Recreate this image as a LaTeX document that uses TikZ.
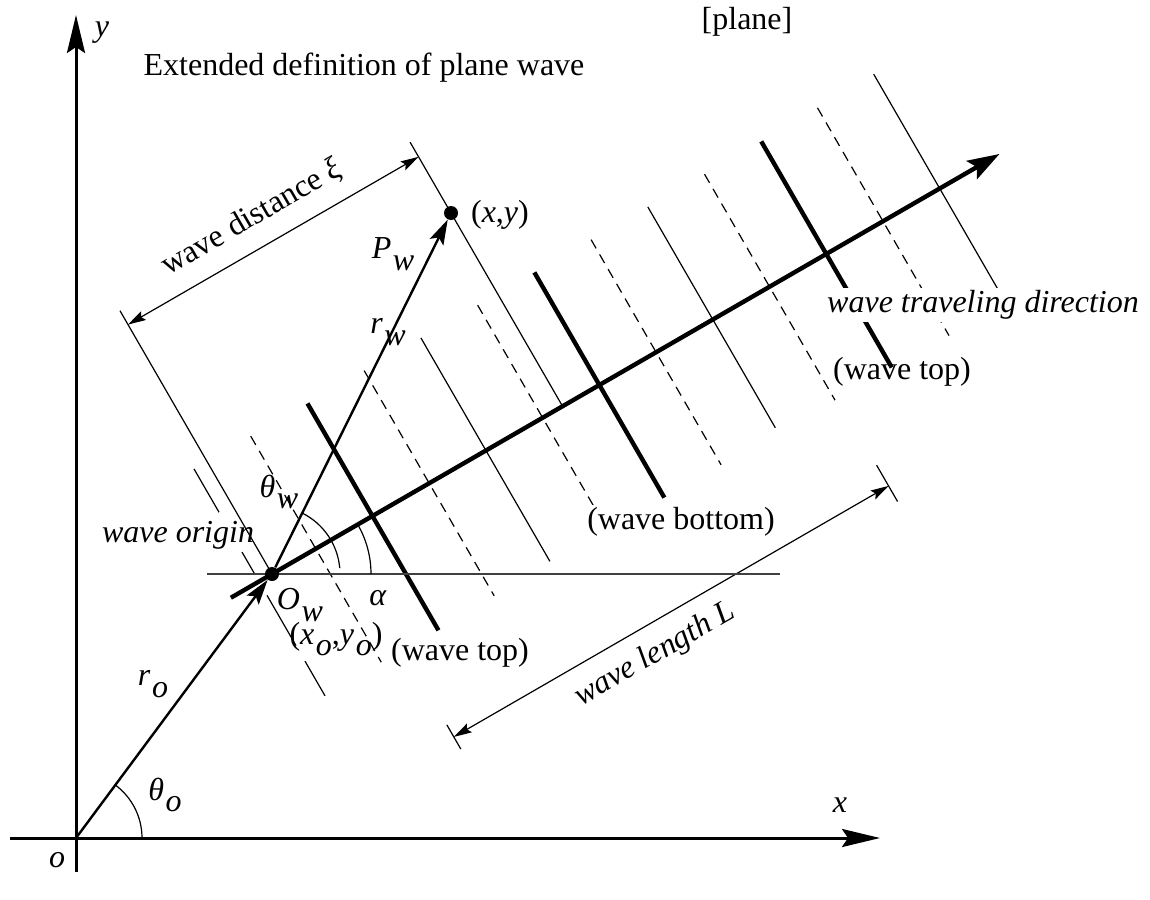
\documentclass[tikz,border=0pt]{standalone}
\usepackage{fontspec}
\setmainfont{Liberation Serif}
\usetikzlibrary{arrows.meta}
\tikzset{
	thinline/.style={line width=0.6pt},
	dashline/.style={line width=0.6pt, dash pattern=on 5pt off 3.5pt},
	crest/.style={line width=2.2pt},
	axis/.style={line width=1.5pt, -{Stealth[length=19pt, width=9pt, inset=3pt]}},
	vec/.style={line width=1.2pt, -{Stealth[length=12.5pt, width=7.5pt, inset=2.5pt]}},
	dim/.style={line width=0.6pt, {Stealth[length=9pt, width=5pt, inset=1.5pt]}-{Stealth[length=9pt, width=5pt, inset=1.5pt]}},
	dot/.style={circle, fill, inner sep=0pt, minimum size=7pt},
	lbl/.style={inner sep=1pt, font=\fontsize{16}{19}\selectfont},
}
\newcommand{\wsub}[2]{\textit{#1}\kern0.05em\raisebox{-0.8ex}{\textit{#2}}}
\begin{document}
\begin{tikzpicture}[x=0.5pt, y=0.5pt]
	\useasboundingbox (0,0) rectangle (1150,-899);
	% Axes:
	\coordinate (o) at (76,-838);
	\coordinate (xs) at (10,-838);
	\coordinate (xe) at (880,-838);
	\coordinate (ys) at (76,-872);
	\coordinate (ye) at (76,-15);
	\draw[axis] (xs) -- (xe);
	\draw[axis] (ys) -- (ye);
	% Wave fronts, in the frame of the wave:
	\begin{scope}[shift={(272,-574)}, rotate=30]
		\draw[thinline] (0,304) -- (0,0);
		\draw[thinline] (-15,130) -- (-15,80) (-15,34) -- (-15,8) (-15,-16) -- (-15,-74) (-15,-92) -- (-15,-132);
		\draw[dashline] (50.5,130) -- (50.5,-131);
		\draw[crest] (116,130) -- (116,-132);
		\draw[dashline] (181.5,130) -- (181.5,-130);
		\draw[thinline] (247,130) -- (247,-128);
		\draw[dashline] (312.5,130) -- (312.5,-130);
		\draw[thinline] (335.5,305) -- (335.5,0);
		\draw[crest] (378,130) -- (378,-130);
		\draw[dashline] (443.5,130) -- (443.5,-130);
		\draw[thinline] (509,130) -- (509,-125);
		\draw[dashline] (574.5,130) -- (574.5,-131);
		\draw[crest] (640,130) -- (640,-131);
		\draw[dashline] (705.5,131) -- (705.5,-132);
		\draw[thinline] (771,132) -- (771,-130);
		\coordinate (dirS) at (-47.5,0);
		\coordinate (dirE) at (840,0);
		\draw[crest, -{Stealth[length=16pt, width=10.5pt, inset=3pt]}] (dirS) -- (dirE);
		\coordinate (xiA) at (0,288);
		\coordinate (xiB) at (335.5,288);
		\draw[dim] (xiA) -- (xiB);
		\coordinate (LA) at (76,-232);
		\coordinate (LB) at (578,-232);
		\draw[thinline] (76,-218) -- (76,-246) (578,-208) -- (578,-250);
		\draw[dim] (LA) -- (LB);
	\end{scope}
	% Horizontal through the wave origin:
	\coordinate (hA) at (207,-574);
	\coordinate (hB) at (780,-574);
	\draw[thinline, black!75] (hA) -- (hB);
	% Points and vectors:
	\node[dot] (Ow) at (272,-574) {};
	\node[dot] (Pw) at (451,-213) {};
	\draw[vec] (o) -- (Ow);
	\draw[vec] (Ow) -- (Pw);
	% Angles:
	\draw[thinline] (o) ++(0:66) arc[start angle=0, end angle=53.6, radius=66];
	\draw[thinline] (Ow.center) ++(63.6:68) arc[start angle=63.6, end angle=5, radius=68];
	\draw[thinline] (Ow.center) ++(0:99) arc[start angle=0, end angle=30, radius=99];
	% Labels:
	\node[lbl] (title) at (364,-68) {Extended definition of plane wave};
	\node[lbl] (plane) at (747,-22) {[plane]};
	\node[lbl] (ylbl) at (102,-33) {\textit{y}};
	\node[lbl] (xlbl) at (840,-805) {\textit{x}};
	\node[lbl] (olbl) at (57,-860) {\textit{o}};
	\node[lbl] (thetao) at (165,-795) {\wsub{θ}{o}};
	\node[lbl] (ro) at (153,-684) {\wsub{r}{o}};
	\node[lbl] (thetaw) at (279,-492) {\wsub{θ}{w}};
	\node[lbl] (rw) at (388,-332) {\wsub{r}{w}};
	\node[lbl] (Pwlbl) at (393,-254) {\wsub{P}{w}};
	\node[lbl] (xy) at (500,-215) {(\textit{x},\textit{y})};
	\node[lbl] (origin) at (178,-535) {\textit{wave origin}};
	\node[lbl] (Owlbl) at (300,-605) {\wsub{O}{w}};
	\node[lbl] (alpha) at (378,-598) {\textit{α}};
	\node[lbl] (xoyo) at (336,-639) {(\wsub{x}{o},\wsub{y}{o})};
	\node[lbl] (top1) at (460,-653) {(wave top)};
	\node[lbl, fill=white] (bottom) at (681,-522) {(wave bottom)};
	\node[lbl] (top2) at (902,-372) {(wave top)};
	\node[lbl, fill=white] (dir) at (983,-305) {\textit{wave traveling direction}};
	\node[lbl, rotate=30] (xilbl) at (252,-218) {wave distance \textit{ξ}};
	\node[lbl, rotate=30] (Llbl) at (655,-655) {\textit{wave length L}};
\end{tikzpicture}
\end{document}
